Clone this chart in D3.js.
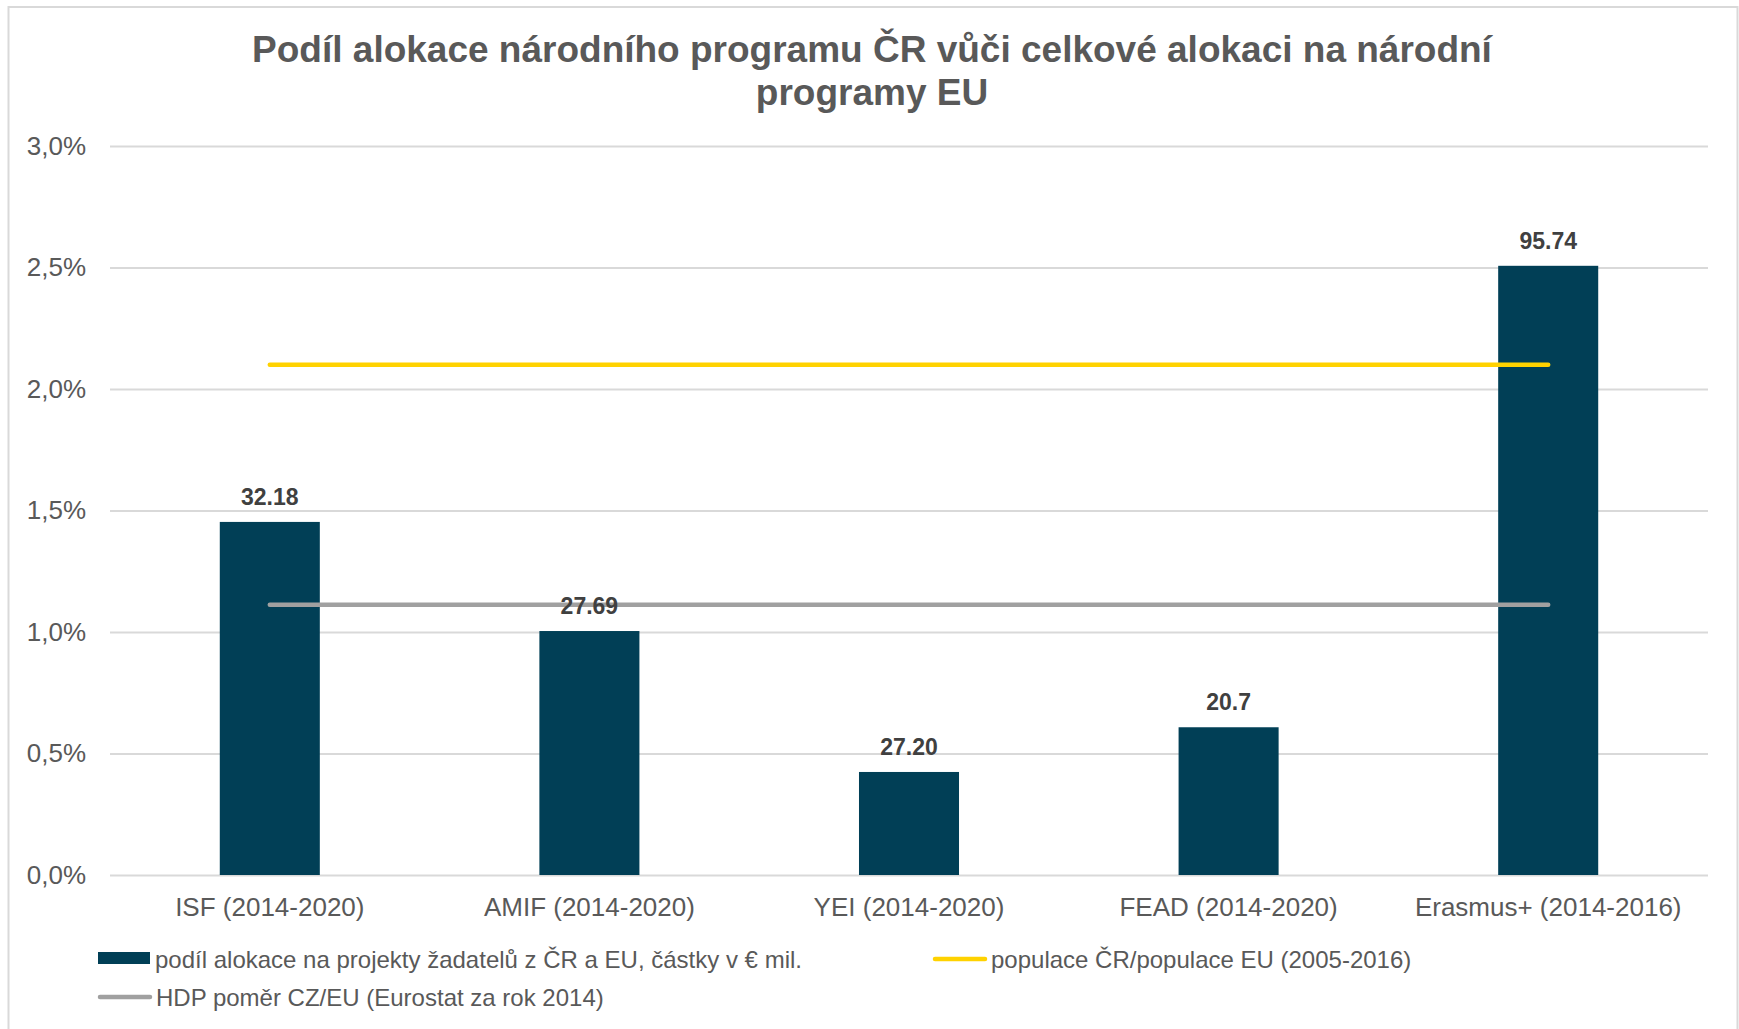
<!DOCTYPE html>
<html>
<head>
<meta charset="utf-8">
<script src="https://cdn.jsdelivr.net/npm/d3@7"></script>
<style>
	html, body { margin: 0; padding: 0; background: #ffffff; }
	svg { display: block; font-family: 'Liberation Sans', Arial, sans-serif; }
</style>
</head>
<body>
<svg id="chart" width="1739" height="1029"></svg>
<script>
// chart data
const categories = [
	'ISF (2014-2020)',
	'AMIF (2014-2020)',
	'YEI (2014-2020)',
	'FEAD (2014-2020)',
	'Erasmus+ (2014-2016)'
];
const shareValues = [0.01453, 0.01004, 0.00424, 0.00608, 0.02507];
const amountLabels = ['32.18', '27.69', '27.20', '20.7', '95.74'];
const populationRatio = [0.0210, 0.0210, 0.0210, 0.0210, 0.0210];
const gdpRatio = [0.01112, 0.01112, 0.01112, 0.01112, 0.01112];
const yTicks = [0, 0.005, 0.01, 0.015, 0.02, 0.025, 0.03];
const titleLines = [
	'Podíl alokace národního programu ČR vůči celkové alokaci na národní',
	'programy EU'
];
const legendItems = [
	{ label: 'podíl alokace na projekty žadatelů z ČR a EU, částky v € mil.', type: 'bar', color: '#013f56' },
	{ label: 'populace ČR/populace EU (2005-2016)', type: 'line', color: '#ffd200' },
	{ label: 'HDP poměr CZ/EU (Eurostat za rok 2014)', type: 'line', color: '#a0a0a0' }
];

const svg = d3.select('#chart');
const plot = { left: 110, right: 1708, top: 146, bottom: 875 };

// czech locale - decimal comma
const cz = d3.formatLocale({ decimal: ',', thousands: '\u00a0', grouping: [3], currency: ['', ' €'] });
const pct = cz.format('.1%');

// outer frame
svg.append('rect')
	.attr('x', 8.5)
	.attr('y', 7)
	.attr('width', 1729)
	.attr('height', 1040)
	.attr('fill', '#ffffff')
	.attr('stroke', '#d9d9d9')
	.attr('stroke-width', 2);

// title
svg.append('text')
	.attr('text-anchor', 'middle')
	.attr('font-size', 37)
	.attr('font-weight', 'bold')
	.attr('fill', '#595959')
	.selectAll('tspan')
	.data(titleLines)
	.enter()
	.append('tspan')
	.attr('x', 872)
	.attr('y', (d, i) => 62 + i * 43)
	.text((d) => d);

const x = d3.scaleBand()
	.domain(categories)
	.range([plot.left, plot.right])
	.padding(0);

const y = d3.scaleLinear()
	.domain([0, 0.03])
	.range([plot.bottom, plot.top]);

const barWidth = x.bandwidth() * 0.313;

// y axis with gridlines
const yAxis = svg.append('g')
	.attr('transform', `translate(${plot.left},0)`)
	.call(
		d3.axisLeft(y)
			.tickValues(yTicks)
			.tickFormat(pct)
			.tickSize(-(plot.right - plot.left))
			.tickPadding(24)
	);
yAxis.select('.domain').remove();
yAxis.selectAll('.tick line')
	.attr('stroke', '#d9d9d9')
	.attr('stroke-width', 2);
yAxis.selectAll('.tick text')
	.attr('font-size', 26)
	.attr('fill', '#595959')
	.attr('font-family', 'Liberation Sans, Arial, sans-serif');

// x axis labels
const xAxis = svg.append('g')
	.attr('transform', `translate(0,${plot.bottom})`)
	.call(d3.axisBottom(x).tickSize(0).tickPadding(23));
xAxis.select('.domain').remove();
xAxis.selectAll('.tick text')
	.attr('font-size', 26)
	.attr('fill', '#595959')
	.attr('dy', '0.71em')
	.attr('font-family', 'Liberation Sans, Arial, sans-serif');

// bars
const bars = svg.append('g').attr('class', 'bars');
bars.selectAll('rect')
	.data(categories)
	.enter()
	.append('rect')
	.attr('x', (d) => x(d) + (x.bandwidth() - barWidth) / 2)
	.attr('y', (d, i) => y(shareValues[i]))
	.attr('width', barWidth)
	.attr('height', (d, i) => y(0) - y(shareValues[i]))
	.attr('fill', '#013f56');

// reference lines (population and GDP ratio)
const line = d3.line()
	.x((d, i) => x(categories[i]) + x.bandwidth() / 2)
	.y((d) => y(d));

[
	{ values: populationRatio, color: '#ffd200' },
	{ values: gdpRatio, color: '#a0a0a0' }
].forEach((s) => {
	svg.append('path')
		.datum(s.values)
		.attr('d', line)
		.attr('fill', 'none')
		.attr('stroke', s.color)
		.attr('stroke-width', 4.5)
		.attr('stroke-linecap', 'round');
});

// data labels
svg.append('g')
	.selectAll('text')
	.data(categories)
	.enter()
	.append('text')
	.attr('x', (d) => x(d) + x.bandwidth() / 2)
	.attr('y', (d, i) => y(shareValues[i]) - 17)
	.attr('text-anchor', 'middle')
	.attr('font-size', 23)
	.attr('font-weight', 'bold')
	.attr('fill', '#404040')
	.text((d, i) => amountLabels[i]);

// legend
const legendPos = [
	{ x: 98, y: 968 },
	{ x: 933, y: 968 },
	{ x: 98, y: 1006 }
];
const legend = svg.append('g')
	.selectAll('g')
	.data(legendItems)
	.enter()
	.append('g')
	.attr('transform', (d, i) => `translate(${legendPos[i].x},${legendPos[i].y})`);

legend.filter((d) => d.type === 'bar')
	.append('rect')
	.attr('x', 0)
	.attr('y', -16)
	.attr('width', 52)
	.attr('height', 12)
	.attr('fill', (d) => d.color);

legend.filter((d) => d.type === 'line')
	.append('line')
	.attr('x1', 2)
	.attr('x2', 52)
	.attr('y1', -9)
	.attr('y2', -9)
	.attr('stroke', (d) => d.color)
	.attr('stroke-width', 4.5)
	.attr('stroke-linecap', 'round');

legend.append('text')
	.attr('x', (d) => (d.type === 'bar' ? 57 : 58))
	.attr('y', 0)
	.attr('font-size', 24)
	.attr('fill', '#595959')
	.text((d) => d.label);
</script>
</body>
</html>
